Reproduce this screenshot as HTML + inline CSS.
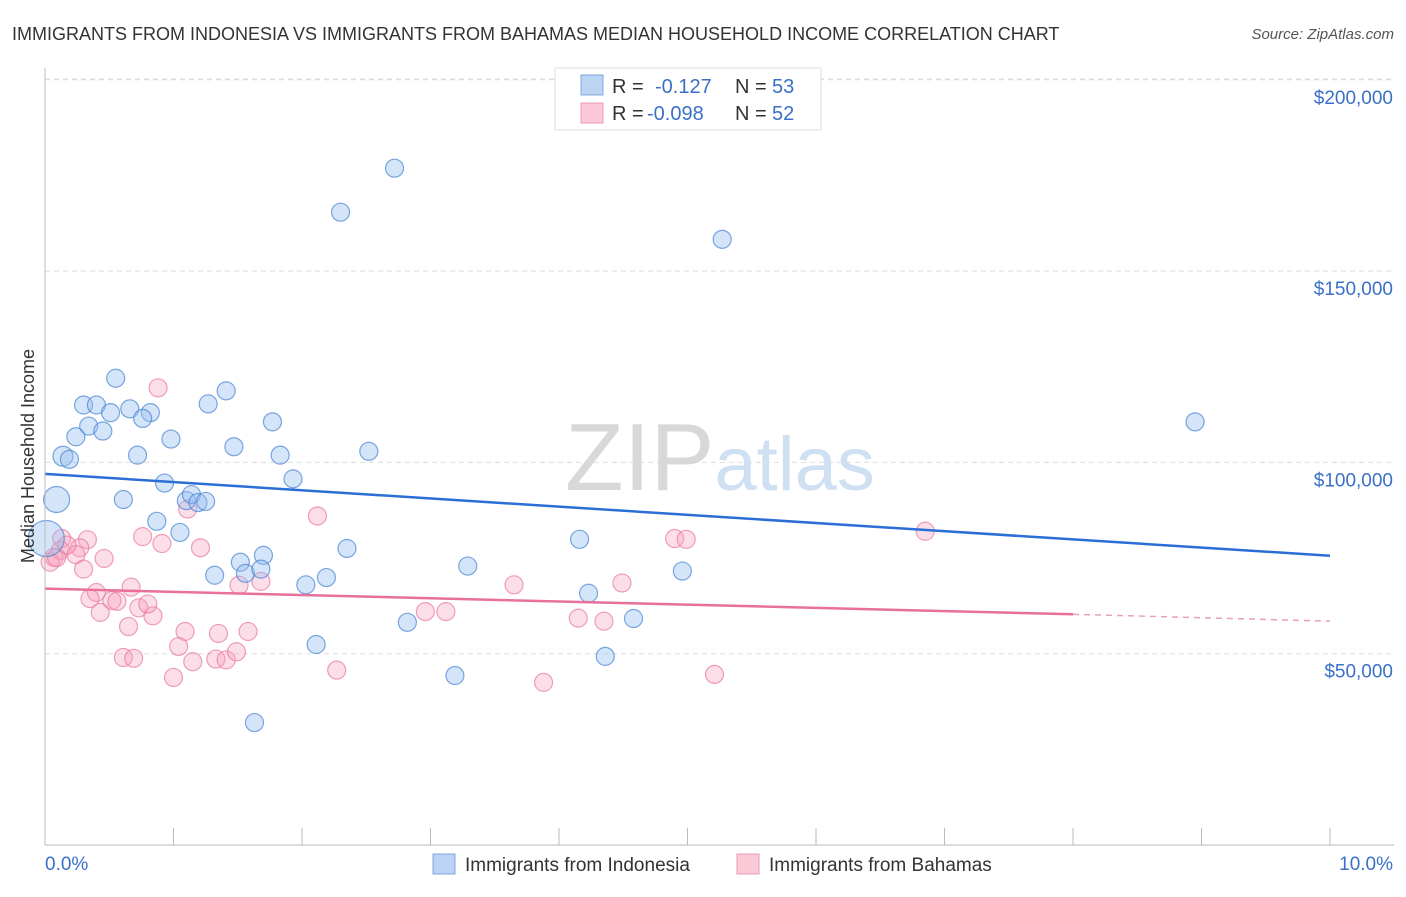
<!DOCTYPE html>
<html><head><meta charset="utf-8">
<style>
body{margin:0;background:#fff;font-family:"Liberation Sans",sans-serif;}
svg text{font-family:"Liberation Sans",sans-serif;}
</style></head>
<body>
<svg id="chart" width="1406" height="892" xmlns="http://www.w3.org/2000/svg">
<text x="12" y="40" font-size="18" fill="#333">IMMIGRANTS FROM INDONESIA VS IMMIGRANTS FROM BAHAMAS MEDIAN HOUSEHOLD INCOME CORRELATION CHART</text>
<text x="1394" y="39" font-size="15" fill="#555" text-anchor="end" font-style="italic">Source: ZipAtlas.com</text>
<g id="grid"></g>
<text x="720" y="490" font-size="96" text-anchor="middle" fill="#ddd" font-family="Liberation Serif"><tspan fill="#d8d8d8">ZIP</tspan><tspan fill="#cfe0f3" font-family="Liberation Sans" font-size="76">atlas</tspan></text>
<g id="marks"></g>
<g id="axes"></g>
<text transform="translate(34,456) rotate(-90)" font-size="18" fill="#333" text-anchor="middle">Median Household Income</text>
<g>
<rect x="555" y="68" width="266" height="62" fill="#fff" stroke="#ddd"/>
<rect x="581" y="75" width="22" height="20" fill="#bcd4f4" stroke="#7fa8e0"/>
<rect x="581" y="103" width="22" height="20" fill="#fbc8d8" stroke="#eb9ab5"/>
<text x="612" y="93" font-size="20" fill="#333">R =</text><text x="655" y="93" font-size="20" fill="#3a70c8">-0.127</text>
<text x="735" y="93" font-size="20" fill="#333">N =</text><text x="772" y="93" font-size="20" fill="#3a70c8">53</text>
<text x="612" y="120" font-size="20" fill="#333">R =</text><text x="647" y="120" font-size="20" fill="#3a70c8">-0.098</text>
<text x="735" y="120" font-size="20" fill="#333">N =</text><text x="772" y="120" font-size="20" fill="#3a70c8">52</text>
</g>
<g>
<rect x="433" y="854" width="22" height="20" fill="#bcd4f4" stroke="#7fa8e0"/>
<text x="465" y="871" font-size="19" fill="#333">Immigrants from Indonesia</text>
<rect x="737" y="854" width="22" height="20" fill="#fbc8d8" stroke="#eb9ab5"/>
<text x="769" y="871" font-size="19" fill="#333">Immigrants from Bahamas</text>
</g>
</svg>
<script>
const yTicks=[50000,100000,150000,200000];
const yTickLabels=["$50,000","$100,000","$150,000","$200,000"];
const xTickLabels=["0.0%","10.0%"];
const blueX=[0.55,0.30,0.40,0.51,0.66,0.82,0.76,0.34,0.24,0.45,0.98,1.27,1.41,1.77,1.47,0.14,0.19,0.72,1.83,2.52,0.93,1.93,0.09,0.61,1.10,1.14,1.19,1.25,0.87,1.05,2.35,1.70,1.52,0.01,1.32,1.56,1.68,2.03,2.19,3.29,4.16,4.23,4.96,2.82,4.58,2.11,4.36,3.19,1.63,2.72,2.30,5.27,8.95];
const blueY=[122000,115000,115000,113000,114000,113000,111500,109500,106700,108200,106100,115300,118700,110600,104100,101600,100800,101900,101900,102900,94600,95700,90300,90300,90000,91600,89500,89800,84600,81700,77500,75700,73900,80100,70500,71000,72100,68000,69900,72900,79900,65800,71600,58200,59200,52400,49300,44300,32000,176900,165400,158300,110600];
const blueR=[9,9,9,9,9,9,9,9,9,9,9,9,9,9,9,10,9,9,9,9,9,9,13,9,9,9,9,9,9,9,9,9,9,18,9,9,9,9,9,9,9,9,9,9,9,9,9,9,9,9,9,9,9];
const pinkX=[0.88,2.12,1.11,0.76,0.33,0.13,0.12,0.07,0.04,0.27,0.24,0.46,0.91,1.21,0.30,0.67,0.40,0.52,0.35,0.43,0.73,0.84,0.65,0.61,0.69,1.09,1.04,1.35,1.15,1.33,1.41,1.49,1.58,1.00,1.51,1.68,2.27,2.96,3.12,3.65,3.88,4.15,4.35,4.49,4.90,4.99,5.21,6.85,0.17,0.09,0.80,0.56];
const pinkY=[119500,86000,87800,80600,79800,80100,77000,75200,73900,77700,75900,74900,78800,77700,72100,67400,66000,63900,64400,60800,62000,59900,57100,49000,48800,55800,51900,55300,47900,48600,48400,50500,55800,43800,67900,68900,45700,61000,61000,68000,42500,59300,58500,68500,80100,79900,44600,82000,78400,75100,63000,63700];
const blueTrend=[[0,97000],[10,75600]];
const pinkTrend=[[0,67000],[8,60300],[10,58500]];
const X0=45,X1=1330,YB=845,PXPER=191.3/50000;
const sx=v=>X0+(X1-X0)*v/10, sy=v=>YB-v*PXPER;
const NS="http://www.w3.org/2000/svg";
function mk(tag,attrs,parent){const e=document.createElementNS(NS,tag);for(const k in attrs)e.setAttribute(k,attrs[k]);parent.appendChild(e);return e;}
const grid=document.getElementById('grid'),axes=document.getElementById('axes'),marks=document.getElementById('marks');
yTicks.forEach((t,i)=>{
 const g=mk('line',{x1:X0,x2:1394,y1:sy(t),y2:sy(t),stroke:'#ddd','stroke-dasharray':'5,4'},grid);
 
 
 const l=mk('text',{x:1393,y:sy(t)+24,'font-size':19,fill:'#3a70c8','text-anchor':'end'},axes);
 l.textContent=yTickLabels[i];
 
 
});
const topG=mk('line',{x1:X0,x2:1394,y1:79,y2:79,stroke:'#ddd','stroke-dasharray':'5,4'},grid);


const ya=mk('line',{x1:X0,x2:X0,y1:68,y2:YB,stroke:'#bbb'},axes);


const xa=mk('line',{x1:X0,x2:1394,y1:YB,y2:YB,stroke:'#bbb'},axes);


for(let i=0;i<=10;i++){
 const t=mk('line',{x1:sx(i),x2:sx(i),y1:YB,y2:YB-17,stroke:'#bbb'},axes);
 
 
}
[[0,'start',45],[10,'end',1393]].forEach((d,i)=>{
 const l=mk('text',{x:d[2],y:870,'font-size':19,fill:'#3a70c8','text-anchor':d[1]},axes);
 l.textContent=xTickLabels[i];
 
 
});
pinkX.forEach((x,i)=>{
 const c=mk('circle',{cx:sx(x),cy:sy(pinkY[i]),r:9,fill:'rgba(246,160,190,0.35)',stroke:'rgba(232,120,160,0.7)','stroke-width':1.2},marks);
 
 
});
blueX.forEach((x,i)=>{
 const c=mk('circle',{cx:sx(x),cy:sy(blueY[i]),r:blueR[i],fill:'rgba(150,190,240,0.4)',stroke:'rgba(70,130,210,0.7)','stroke-width':1.2},marks);
 
 
});
const bl=mk('line',{x1:sx(blueTrend[0][0]),y1:sy(blueTrend[0][1]),x2:sx(blueTrend[1][0]),y2:sy(blueTrend[1][1]),stroke:'#2b6fd6','stroke-width':2.5},marks);


const pl=mk('line',{x1:sx(pinkTrend[0][0]),y1:sy(pinkTrend[0][1]),x2:sx(pinkTrend[1][0]),y2:sy(pinkTrend[1][1]),stroke:'#e8709a','stroke-width':2.5},marks);


const pd=mk('line',{x1:sx(pinkTrend[1][0]),y1:sy(pinkTrend[1][1]),x2:sx(pinkTrend[2][0]),y2:sy(pinkTrend[2][1]),stroke:'#e8a0b8','stroke-width':1.5,'stroke-dasharray':'6,5'},marks);


</script>
</body></html>
